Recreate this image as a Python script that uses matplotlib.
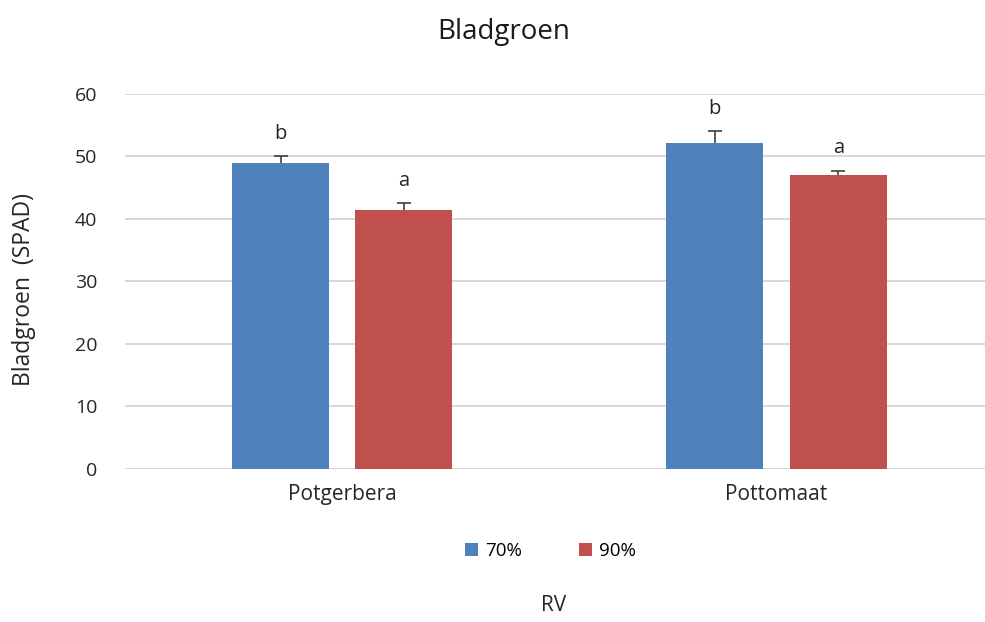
import numpy as np
import matplotlib
import matplotlib.pyplot as plt

matplotlib.rcParams['font.family'] = ['Open Sans', 'DejaVu Sans']

categories = ['Potgerbera', 'Pottomaat']
series = ['70%', '90%']
values_70 = [48.9, 52.2]
values_90 = [41.5, 47.0]
err_70 = [1.1, 1.8]
err_90 = [1.0, 0.7]
letters_70 = ['b', 'b']
letters_90 = ['a', 'a']

colors = ['#4F81BD', '#C0504D']

fig = plt.figure(figsize=(9.85, 6.22), dpi=100)
ax = fig.add_axes([0.127, 0.246, 0.873, 0.603])

x = np.arange(len(categories))
w = 0.223
off = 0.142
for vals, errs, letters, dx, c, lab in [(values_70, err_70, letters_70, -off, colors[0], series[0]),
                                        (values_90, err_90, letters_90, off, colors[1], series[1])]:
    ax.bar(x + dx, vals, w, color=c, label=lab, zorder=2)
    eb = ax.errorbar(x + dx, vals, yerr=[np.zeros(len(vals)), errs], fmt='none',
                     ecolor='#404040', elinewidth=1.2, capsize=5, capthick=1.2, zorder=3)
    eb[1][0].set_visible(False)  # only upper caps
    for xi, v, e, t in zip(x + dx, vals, errs, letters):
        ax.text(xi, v + e + 2.0, t, ha='center', va='bottom', fontsize=14.5, color='#262626')

ax.set_xlim(-0.5, 1.48)
ax.set_ylim(0, 60)
ax.set_yticks(range(0, 61, 10))
ax.set_xticks(x)
ax.set_xticklabels(categories)
ax.tick_params(axis='y', length=0, labelsize=14, colors='#262626', pad=20)
ax.tick_params(axis='x', length=0, labelsize=15, colors='#262626', pad=11)
ax.grid(axis='y', color='#d9d3d3', linewidth=1.3, zorder=0)
for s in ['top', 'right', 'left', 'bottom']:
    ax.spines[s].set_visible(False)

fig.text(0.511, 0.948, 'Bladgroen', ha='center', va='center', fontsize=20, color='#1a1a1a')
fig.text(0.024, 0.534, 'Bladgroen  (SPAD)', rotation=90, ha='center', va='center', fontsize=16.5, color='#262626')
fig.text(0.562, 0.027, 'RV', ha='center', va='center', fontsize=15, color='#262626')

fig.legend(loc='center', bbox_to_anchor=(0.559, 0.114), ncol=2, frameon=False, fontsize=13.5,
           handlelength=0.7, handleheight=0.7, columnspacing=3.0, handletextpad=0.4)

fig.savefig('out.png', dpi=100)
